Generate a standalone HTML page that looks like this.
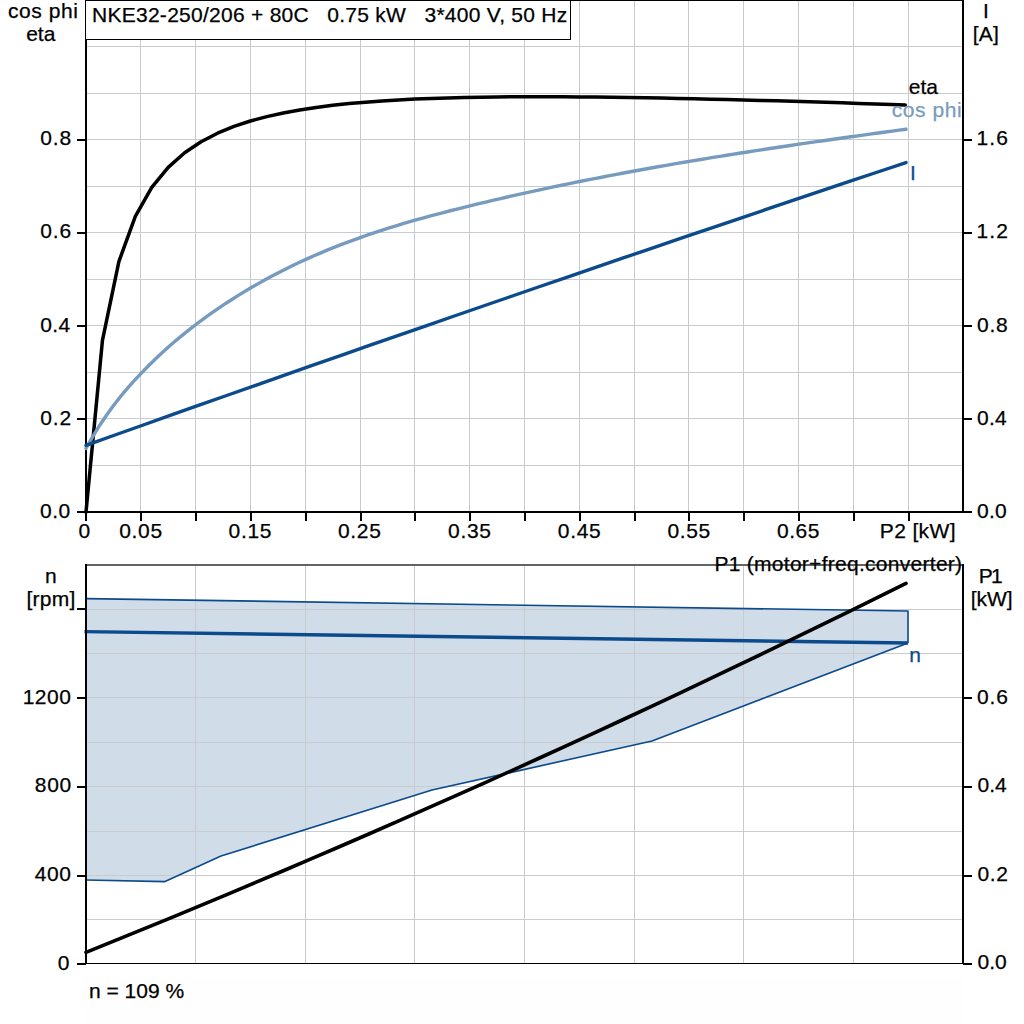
<!DOCTYPE html>
<html><head><meta charset="utf-8"><style>
html,body{margin:0;padding:0;background:#fff;width:1024px;height:1024px;overflow:hidden}
svg{display:block;position:absolute;left:0;top:0}
</style></head><body>
<svg width="1024" height="1024" viewBox="0 0 1024 1024">
<rect x="0" y="0" width="1024" height="1024" fill="#fff"/>
<rect x="85" y="979" width="878" height="45" fill="#fefefe"/>
<path d="M140.5,0V511 M195.5,0V511 M250.5,0V511 M305.5,0V511 M360.5,0V511 M414.5,0V511 M469.5,0V511 M524.5,0V511 M579.5,0V511 M634.5,0V511 M688.5,0V511 M743.5,0V511 M798.5,0V511 M853.5,0V511 M908.5,0V511 M86,465.5H962 M86,418.5H962 M86,372.5H962 M86,325.5H962 M86,279.5H962 M86,232.5H962 M86,186.5H962 M86,139.5H962 M86,93.5H962 M86,46.5H962" stroke="#c8cbd0" stroke-width="1" fill="none"/>
<rect x="86" y="0" width="877" height="512" fill="none" stroke="#000" stroke-width="2"/>
<rect x="85.5" y="0.5" width="485" height="39" fill="#fff" stroke="#000" stroke-width="1"/>
<path d="M77,512H86 M963,512H972 M77,419H86 M963,419H972 M77,326H86 M963,326H972 M77,233H86 M963,233H972 M77,140H86 M963,140H972 M86,512V521 M141,512V521 M196,512V521 M251,512V521 M306,512V521 M361,512V521 M415,512V521 M470,512V521 M525,512V521 M580,512V521 M635,512V521 M689,512V521 M744,512V521 M799,512V521 M854,512V521 M909,512V521" stroke="#000" stroke-width="2" fill="none"/>
<path d="M86,512 L102.44,340.46 L118.88,261.53 L135.32,216.43 L151.76,187.44 L168.2,167.38 L184.64,152.78 L201.08,141.76 L217.52,133.22 L233.96,126.45 L250.4,121.01 L266.84,116.59 L283.28,112.95 L299.72,109.94 L316.16,107.44 L332.6,105.35 L349.04,103.61 L365.48,102.15 L381.92,100.94 L398.36,99.94 L414.8,99.12 L431.24,98.45 L447.68,97.91 L464.12,97.5 L480.56,97.18 L497,96.96 L513.44,96.82 L529.88,96.76 L546.32,96.75 L562.76,96.81 L579.2,96.91 L595.64,97.07 L612.08,97.27 L628.52,97.5 L644.96,97.77 L661.4,98.07 L677.84,98.4 L694.28,98.76 L710.72,99.14 L727.16,99.55 L743.6,99.97 L760.04,100.41 L776.48,100.87 L792.92,101.35 L809.36,101.84 L825.8,102.34 L842.24,102.86 L858.68,103.38 L875.12,103.92 L891.56,104.47 L905.26,104.93" stroke="#000" stroke-width="3.5" fill="none" stroke-linejoin="round" stroke-linecap="round"/>
<path d="M86,448.42 L92.89,436.33 L99.78,425.21 L106.67,414.96 L113.56,405.48 L120.45,396.67 L127.34,388.44 L134.24,380.7 L141.13,373.35 L148.02,366.3 L154.91,359.54 L161.8,353.05 L168.69,346.82 L175.58,340.83 L182.47,335.08 L189.36,329.55 L196.25,324.22 L203.14,319.09 L210.03,314.13 L216.92,309.35 L223.82,304.71 L230.71,300.22 L237.6,295.87 L244.49,291.65 L251.38,287.56 L258.27,283.6 L265.16,279.76 L272.05,276.04 L278.94,272.43 L285.83,268.94 L292.72,265.56 L299.61,262.29 L306.5,259.12 L313.39,256.05 L320.29,253.07 L327.18,250.19 L334.07,247.4 L340.96,244.7 L347.85,242.08 L354.74,239.54 L361.63,237.07 L368.52,234.68 L375.41,232.36 L382.3,230.11 L389.19,227.92 L396.08,225.79 L402.97,223.72 L409.87,221.7 L416.76,219.73 L423.65,217.8 L430.54,215.93 L437.43,214.09 L444.32,212.28 L451.21,210.51 L458.1,208.78 L464.99,207.06 L471.88,205.38 L478.77,203.71 L485.66,202.06 L492.55,200.44 L499.45,198.83 L506.34,197.24 L513.23,195.68 L520.12,194.13 L527.01,192.6 L533.9,191.09 L540.79,189.6 L547.68,188.13 L554.57,186.67 L561.46,185.23 L568.35,183.81 L575.24,182.41 L582.13,181.02 L589.03,179.65 L595.92,178.3 L602.81,176.96 L609.7,175.63 L616.59,174.33 L623.48,173.03 L630.37,171.75 L637.26,170.49 L644.15,169.24 L651.04,168 L657.93,166.78 L664.82,165.57 L671.71,164.37 L678.61,163.19 L685.5,162.02 L692.39,160.86 L699.28,159.71 L706.17,158.57 L713.06,157.44 L719.95,156.33 L726.84,155.22 L733.73,154.13 L740.62,153.04 L747.51,151.97 L754.4,150.9 L761.29,149.85 L768.18,148.8 L775.08,147.76 L781.97,146.73 L788.86,145.7 L795.75,144.69 L802.64,143.68 L809.53,142.68 L816.42,141.69 L823.31,140.7 L830.2,139.72 L837.09,138.74 L843.98,137.77 L850.87,136.8 L857.76,135.84 L864.66,134.89 L871.55,133.94 L878.44,132.99 L885.33,132.05 L892.22,131.11 L899.11,130.17 L906,129.24" stroke="#779bbf" stroke-width="3.4" fill="none" stroke-linejoin="round" stroke-linecap="round"/>
<path d="M86,445.33 L114.28,435.27 L142.55,425.23 L170.83,415.21 L199.1,405.22 L227.38,395.25 L255.66,385.29 L283.93,375.37 L312.21,365.46 L340.48,355.58 L368.76,345.71 L397.03,335.87 L425.31,326.06 L453.59,316.26 L481.86,306.49 L510.14,296.74 L538.41,287.01 L566.69,277.3 L594.97,267.62 L623.24,257.96 L651.52,248.32 L679.79,238.7 L708.07,229.11 L736.34,219.53 L764.62,209.98 L792.9,200.46 L821.17,190.95 L849.45,181.47 L877.72,172 L906,162.57" stroke="#0b4a8b" stroke-width="3.4" fill="none" stroke-linejoin="round" stroke-linecap="round"/>
<path d="M86,598.6 L908,611 L908,643 L652,741 L432,790 L221,856 L165,881.6 L86,880 Z" fill="#d0dce8" stroke="none"/>
<path d="M195.5,565V964 M305.5,565V964 M414.5,565V964 M524.5,565V964 M634.5,565V964 M743.5,565V964 M853.5,565V964 M87,919.5H962 M87,875.5H962 M87,831.5H962 M87,786.5H962 M87,742.5H962 M87,697.5H962 M87,653.5H962 M87,609.5H962" stroke="#c8cbd0" stroke-width="1" fill="none"/>
<path d="M86,598.6 L908,611 L908,643 M908,643 L652,741 L432,790 L221,856 L165,881.6 L86,880" stroke="#0b4a8b" stroke-width="1.6" fill="none" stroke-linejoin="round"/>
<path d="M84.5,631.6 L908,643" stroke="#0b4a8b" stroke-width="3.4" fill="none" stroke-linecap="butt"/>
<path d="M86,952.33 L114.28,940.91 L142.55,929.41 L170.83,917.81 L199.1,906.12 L227.38,894.33 L255.66,882.45 L283.93,870.48 L312.21,858.41 L340.48,846.25 L368.76,833.99 L397.03,821.65 L425.31,809.21 L453.59,796.67 L481.86,784.04 L510.14,771.32 L538.41,758.51 L566.69,745.6 L594.97,732.6 L623.24,719.5 L651.52,706.31 L679.79,693.03 L708.07,679.65 L736.34,666.18 L764.62,652.62 L792.9,638.96 L821.17,625.21 L849.45,611.37 L877.72,597.43 L906,583.4" stroke="#000" stroke-width="3.6" fill="none" stroke-linecap="round"/>
<path d="M86,565H963" stroke="#626466" stroke-width="2" fill="none"/>
<path d="M86,564V964 M963,564V964" stroke="#000" stroke-width="2" fill="none"/>
<path d="M86,963.5H963" stroke="#000" stroke-width="1" fill="none"/>
<path d="M77,964H86 M77,876H86 M77,787H86 M77,698H86 M77,609H86 M963,964H972 M963,876H972 M963,787H972 M963,698H972" stroke="#000" stroke-width="2" fill="none"/>
<g font-family="'Liberation Sans', sans-serif" font-size="21">
<text x="7.9" y="17.8" fill="#000" stroke="#000" stroke-width="0.25" textLength="70.05" lengthAdjust="spacing" xml:space="preserve">cos phi</text>
<text x="26.2" y="40.8" fill="#000" stroke="#000" stroke-width="0.25" xml:space="preserve">eta</text>
<text x="92" y="21.9" fill="#000" stroke="#000" stroke-width="0.25" textLength="475.27" lengthAdjust="spacing" xml:space="preserve">NKE32-250/206 + 80C   0.75 kW   3*400 V, 50 Hz</text>
<text x="983" y="17.8" fill="#000" stroke="#000" stroke-width="0.25" xml:space="preserve">I</text>
<text x="972.75" y="40.6" fill="#000" stroke="#000" stroke-width="0.25" textLength="26.14" lengthAdjust="spacing" xml:space="preserve">[A]</text>
<text x="40.2" y="145" fill="#000" stroke="#000" stroke-width="0.25" textLength="30.9" lengthAdjust="spacing" xml:space="preserve">0.8</text>
<text x="40.2" y="238" fill="#000" stroke="#000" stroke-width="0.25" textLength="30.9" lengthAdjust="spacing" xml:space="preserve">0.6</text>
<text x="40.2" y="331.7" fill="#000" stroke="#000" stroke-width="0.25" textLength="29.9" lengthAdjust="spacing" xml:space="preserve">0.4</text>
<text x="40.2" y="425.1" fill="#000" stroke="#000" stroke-width="0.25" textLength="30.9" lengthAdjust="spacing" xml:space="preserve">0.2</text>
<text x="40" y="517.5" fill="#000" stroke="#000" stroke-width="0.25" textLength="30.2" lengthAdjust="spacing" xml:space="preserve">0.0</text>
<text x="976.5" y="145" fill="#000" stroke="#000" stroke-width="0.25" textLength="31.4" lengthAdjust="spacing" xml:space="preserve">1.6</text>
<text x="976.5" y="238" fill="#000" stroke="#000" stroke-width="0.25" textLength="31.4" lengthAdjust="spacing" xml:space="preserve">1.2</text>
<text x="977.1" y="331.9" fill="#000" stroke="#000" stroke-width="0.25" textLength="30.7" lengthAdjust="spacing" xml:space="preserve">0.8</text>
<text x="977.1" y="425.1" fill="#000" stroke="#000" stroke-width="0.25" textLength="29.7" lengthAdjust="spacing" xml:space="preserve">0.4</text>
<text x="977.1" y="517.5" fill="#000" stroke="#000" stroke-width="0.25" textLength="29.7" lengthAdjust="spacing" xml:space="preserve">0.0</text>
<text x="78.4" y="537.7" fill="#000" stroke="#000" stroke-width="0.25" xml:space="preserve">0</text>
<text x="119.2" y="537.9" fill="#000" stroke="#000" stroke-width="0.25" textLength="42.92" lengthAdjust="spacing" xml:space="preserve">0.05</text>
<text x="228.6" y="537.9" fill="#000" stroke="#000" stroke-width="0.25" textLength="42.88" lengthAdjust="spacing" xml:space="preserve">0.15</text>
<text x="338" y="537.9" fill="#000" stroke="#000" stroke-width="0.25" textLength="42.88" lengthAdjust="spacing" xml:space="preserve">0.25</text>
<text x="448.1" y="537.9" fill="#000" stroke="#000" stroke-width="0.25" textLength="42.88" lengthAdjust="spacing" xml:space="preserve">0.35</text>
<text x="557.8" y="537.9" fill="#000" stroke="#000" stroke-width="0.25" textLength="42.88" lengthAdjust="spacing" xml:space="preserve">0.45</text>
<text x="667.4" y="537.9" fill="#000" stroke="#000" stroke-width="0.25" textLength="42.88" lengthAdjust="spacing" xml:space="preserve">0.55</text>
<text x="777" y="537.9" fill="#000" stroke="#000" stroke-width="0.25" textLength="42.48" lengthAdjust="spacing" xml:space="preserve">0.65</text>
<text x="879.75" y="537.7" fill="#000" stroke="#000" stroke-width="0.25" textLength="75.77" lengthAdjust="spacing" xml:space="preserve">P2 [kW]</text>
<text x="908.8" y="93.6" fill="#000" stroke="#000" stroke-width="0.25" xml:space="preserve">eta</text>
<text x="891.8" y="116.7" fill="#779bbf" stroke="#779bbf" stroke-width="0.25" textLength="69.75" lengthAdjust="spacing" xml:space="preserve">cos phi</text>
<text x="909.9" y="179.5" fill="#0b4a8b" stroke="#0b4a8b" stroke-width="0.25" xml:space="preserve">I</text>
<text x="45" y="583" fill="#000" stroke="#000" stroke-width="0.25" xml:space="preserve">n</text>
<text x="26.5" y="606" fill="#000" stroke="#000" stroke-width="0.25" textLength="48.74" lengthAdjust="spacing" xml:space="preserve">[rpm]</text>
<text x="22.7" y="703.9" fill="#000" stroke="#000" stroke-width="0.25" textLength="48.12" lengthAdjust="spacing" xml:space="preserve">1200</text>
<text x="34.8" y="791.7" fill="#000" stroke="#000" stroke-width="0.25" textLength="36.35" lengthAdjust="spacing" xml:space="preserve">800</text>
<text x="34.8" y="880.7" fill="#000" stroke="#000" stroke-width="0.25" textLength="36.25" lengthAdjust="spacing" xml:space="preserve">400</text>
<text x="57.7" y="969.9" fill="#000" stroke="#000" stroke-width="0.25" xml:space="preserve">0</text>
<text x="714.4" y="571" fill="#000" stroke="#000" stroke-width="0.25" textLength="247.72" lengthAdjust="spacing" xml:space="preserve">P1 (motor+freq.converter)</text>
<text x="978.7" y="582.8" fill="#000" stroke="#000" stroke-width="0.25" textLength="23.89" lengthAdjust="spacing" xml:space="preserve">P1</text>
<text x="970.7" y="605.6" fill="#000" stroke="#000" stroke-width="0.25" xml:space="preserve">[kW]</text>
<text x="977" y="704" fill="#000" stroke="#000" stroke-width="0.25" textLength="30.95" lengthAdjust="spacing" xml:space="preserve">0.6</text>
<text x="977.5" y="791.5" fill="#000" stroke="#000" stroke-width="0.25" xml:space="preserve">0.4</text>
<text x="977.5" y="880.7" fill="#000" stroke="#000" stroke-width="0.25" textLength="30.45" lengthAdjust="spacing" xml:space="preserve">0.2</text>
<text x="977.5" y="968.9" fill="#000" stroke="#000" stroke-width="0.25" xml:space="preserve">0.0</text>
<text x="909.3" y="661.8" fill="#0b4a8b" stroke="#0b4a8b" stroke-width="0.25" xml:space="preserve">n</text>
<text x="89" y="997.9" fill="#000" stroke="#000" stroke-width="0.25" xml:space="preserve">n = 109 %</text>
</g>
</svg>
</body></html>
